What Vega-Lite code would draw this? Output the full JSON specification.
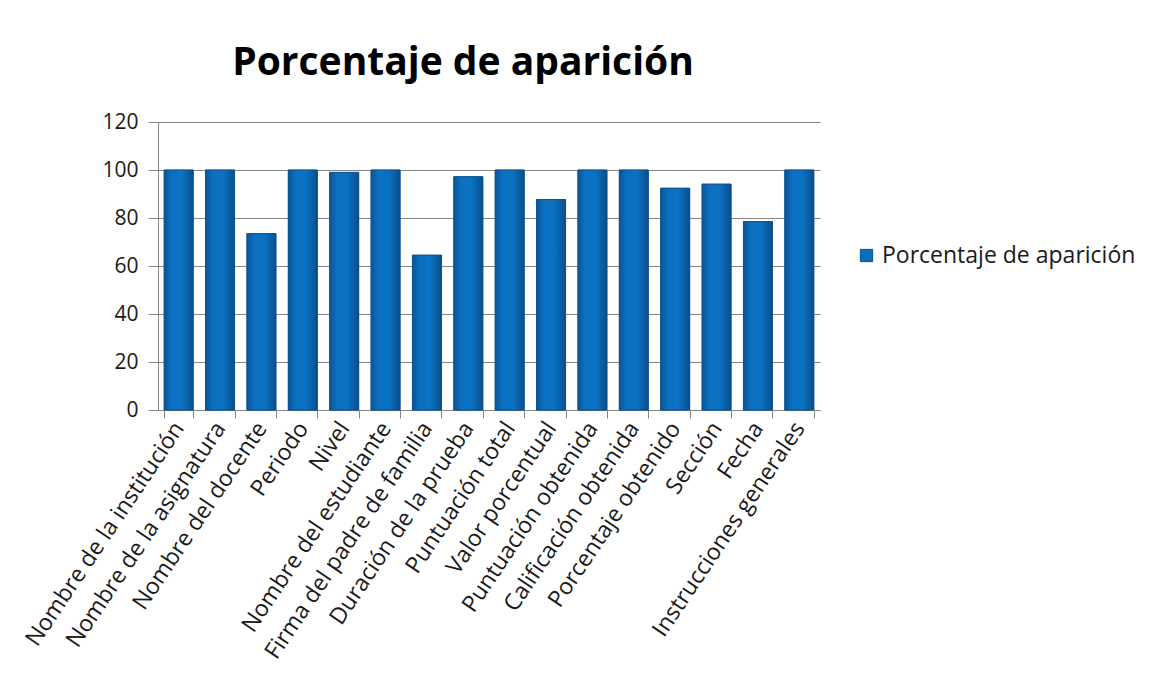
{
  "$schema": "https://vega.github.io/schema/vega-lite/v6.json",
  "autosize": "none",
  "width": 662,
  "height": 288,
  "padding": {"left": 158, "top": 122, "right": 336, "bottom": 283},
  "background": "white",
  "title": {
    "text": "Porcentaje de aparición",
    "font": "Open Sans",
    "fontSize": 39,
    "fontWeight": "bold",
    "color": "#000000",
    "anchor": "middle",
    "dx": -26,
    "offset": 28
  },
  "data": {
    "values": [
      {"campo": "Nombre de la institución", "valor": 100, "serie": "Porcentaje de aparición"},
      {"campo": "Nombre de la asignatura", "valor": 100, "serie": "Porcentaje de aparición"},
      {"campo": "Nombre del docente", "valor": 73.5, "serie": "Porcentaje de aparición"},
      {"campo": "Periodo", "valor": 100, "serie": "Porcentaje de aparición"},
      {"campo": "Nivel", "valor": 99, "serie": "Porcentaje de aparición"},
      {"campo": "Nombre del estudiante", "valor": 100, "serie": "Porcentaje de aparición"},
      {"campo": "Firma del padre de familia", "valor": 64.5, "serie": "Porcentaje de aparición"},
      {"campo": "Duración de la prueba", "valor": 97.2, "serie": "Porcentaje de aparición"},
      {"campo": "Puntuación total", "valor": 100, "serie": "Porcentaje de aparición"},
      {"campo": "Valor porcentual", "valor": 87.7, "serie": "Porcentaje de aparición"},
      {"campo": "Puntuación obtenida", "valor": 100, "serie": "Porcentaje de aparición"},
      {"campo": "Calificación obtenida", "valor": 100, "serie": "Porcentaje de aparición"},
      {"campo": "Porcentaje obtenido", "valor": 92.4, "serie": "Porcentaje de aparición"},
      {"campo": "Sección", "valor": 94.1, "serie": "Porcentaje de aparición"},
      {"campo": "Fecha", "valor": 78.5, "serie": "Porcentaje de aparición"},
      {"campo": "Instrucciones generales", "valor": 100, "serie": "Porcentaje de aparición"}
    ]
  },
  "encoding": {
    "x": {
      "field": "campo",
      "type": "nominal",
      "sort": null,
      "scale": {"paddingInner": 0.3, "paddingOuter": 0.15},
      "axis": {
        "title": null,
        "labelAngle": -56,
        "labelAlign": "right",
        "labelBaseline": "middle",
        "labelFont": "Open Sans",
        "labelFontSize": 23,
        "labelColor": "#1a1a1a",
        "labelPadding": 6,
        "labelLimit": 400,
        "labelOverlap": false,
        "tickBand": "extent",
        "tickSize": 8,
        "tickColor": "#868686",
        "domainColor": "#868686",
        "grid": false
      }
    },
    "y": {
      "field": "valor",
      "type": "quantitative",
      "scale": {"domain": [0, 120]},
      "axis": {
        "title": null,
        "values": [0, 20, 40, 60, 80, 100, 120],
        "labelFont": "Open Sans",
        "labelFontSize": 21,
        "labelColor": "#1a1a1a",
        "labelPadding": 10,
        "tickSize": 10,
        "tickColor": "#868686",
        "domainColor": "#868686",
        "gridColor": "#868686",
        "gridWidth": 1
      }
    }
  },
  "layer": [
    {
      "mark": {"type": "bar", "stroke": "#0a4f8c", "strokeWidth": 0.8},
      "encoding": {
        "color": {
          "field": "serie",
          "type": "nominal",
          "scale": {"range": ["#0b6fbf"]},
          "legend": {
            "title": null,
            "orient": "none",
            "legendX": 697,
            "legendY": 122,
            "symbolType": "square",
            "symbolSize": 150,
            "symbolStrokeColor": "#0a4f8c",
            "symbolStrokeWidth": 1,
            "labelFont": "Open Sans",
            "labelFontSize": 23,
            "labelColor": "#1a1a1a",
            "labelLimit": 400
          }
        }
      }
    },
    {
      "mark": {
        "type": "bar",
        "stroke": "#0a4f8c",
        "strokeWidth": 0.8,
        "fill": {
          "gradient": "linear", "x1": 0, "y1": 0, "x2": 1, "y2": 0,
          "stops": [
            {"offset": 0, "color": "#0a5597"},
            {"offset": 0.25, "color": "#0b70c0"},
            {"offset": 0.6, "color": "#0a72c4"},
            {"offset": 1, "color": "#0a4f8c"}
          ]
        }
      }
    }
  ],
  "config": {
    "view": {"stroke": null}
  }
}
